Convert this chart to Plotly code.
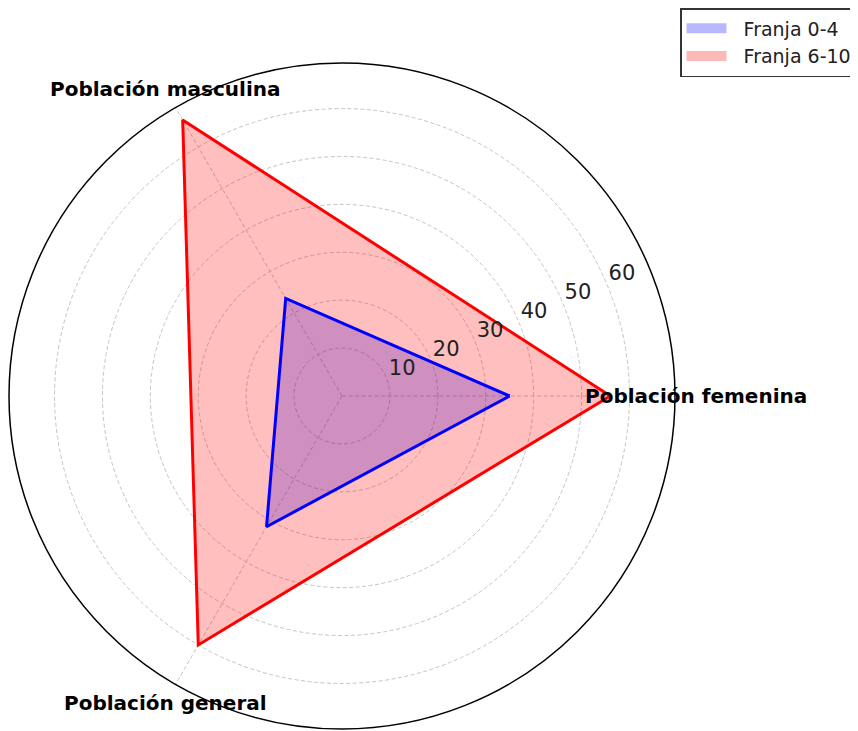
"""
Radar chart: Franja 0-4 vs Franja 6-10 by population group.
"""

import math

import plotly.graph_objects as go

categorias = ["Población femenina", "Población masculina", "Población general"]
franja_0_4 = [35, 23.5, 31.5]
franja_6_10 = [56, 66.5, 60]
radial_ticks = [10, 20, 30, 40, 50, 60]
series_names = ["Franja 0-4", "Franja 6-10"]

W, H = 858, 731
R_MAX = 69.5
FONT = "DejaVu Sans"

# polar box in pixels (square, so radius = half its width)
CX, CY, RAD = 334, 388, 333
DOM_X = [(CX - RAD) / W, (CX + RAD) / W]
DOM_Y = [1 - (CY + RAD) / H, 1 - (CY - RAD) / H]

# matplotlib-like placement of labels
LABEL_RAD = 1.063          # category labels, as a fraction of the spine radius
RLABEL_ANGLE = 23.5        # radial tick labels
RLABEL_PAD = 3.7           # in data units


def closed(vals):
    return list(vals) + [vals[0]]


theta = closed(categorias)

fig = go.Figure()

for vals, rgb in [(franja_0_4, "0,0,255"), (franja_6_10, "255,0,0")]:
    fig.add_trace(
        go.Scatterpolar(
            r=closed(vals),
            theta=theta,
            mode="lines",
            fill="toself",
            fillcolor=f"rgba({rgb},0.25)",
            line=dict(color=f"rgba({rgb},0)", width=0),
            showlegend=False,
            hoverinfo="skip",
        )
    )

for vals, color in [(franja_0_4, "#0000ff"), (franja_6_10, "#ff0000")]:
    fig.add_trace(
        go.Scatterpolar(
            r=closed(vals),
            theta=theta,
            mode="lines",
            line=dict(color=color, width=3),
            showlegend=False,
        )
    )

# legend patches
for name, rgb in zip(series_names, ["0,0,255", "255,0,0"]):
    fig.add_trace(
        go.Scatterpolar(
            r=[None],
            theta=[categorias[0]],
            mode="lines",
            line=dict(color=f"rgba({rgb},0.28)", width=14),
            name="\u00a0\u00a0" + name,
        )
    )

# radial tick labels (horizontal, like matplotlib) on an overlaid numeric polar
fig.add_trace(
    go.Scatterpolar(
        r=[v + RLABEL_PAD for v in radial_ticks],
        theta=[RLABEL_ANGLE] * len(radial_ticks),
        mode="text",
        text=[str(v) for v in radial_ticks],
        textposition="middle center",
        textfont=dict(family=FONT, size=21, color="#222222"),
        subplot="polar2",
        showlegend=False,
        hoverinfo="skip",
    )
)

# category labels centred just outside the spine
n = len(categorias)
for i, cat in enumerate(categorias):
    a = math.radians(360 * i / n)
    fig.add_annotation(
        x=(CX + LABEL_RAD * RAD * math.cos(a)) / W,
        y=1 - (CY - LABEL_RAD * RAD * math.sin(a)) / H,
        xref="paper",
        yref="paper",
        text=cat,
        showarrow=False,
        xanchor="center",
        yanchor="middle",
        font=dict(family=FONT, size=20, color="black", weight="bold"),
    )

grid = dict(showgrid=True, gridcolor="#c4c4c4", griddash="4px,2.5px", gridwidth=1)

fig.update_layout(
    width=W,
    height=H,
    margin=dict(l=0, r=0, t=0, b=0),
    paper_bgcolor="white",
    font=dict(family=FONT),
    polar=dict(
        domain=dict(x=DOM_X, y=DOM_Y),
        bgcolor="white",
        angularaxis=dict(
            direction="counterclockwise",
            rotation=0,
            showticklabels=False,
            ticks="",
            showline=True,
            linecolor="black",
            linewidth=1.5,
            **grid,
        ),
        radialaxis=dict(
            range=[0, R_MAX],
            tickvals=radial_ticks,
            showticklabels=False,
            showline=False,
            ticks="",
            **grid,
        ),
    ),
    polar2=dict(
        domain=dict(x=DOM_X, y=DOM_Y),
        bgcolor="rgba(0,0,0,0)",
        angularaxis=dict(direction="counterclockwise", rotation=0, visible=False),
        radialaxis=dict(range=[0, R_MAX], visible=False),
    ),
    legend=dict(
        x=672 / W,
        y=1.0,
        xanchor="left",
        yanchor="top",
        bgcolor="white",
        bordercolor="#333333",
        borderwidth=1.5,
        font=dict(family=FONT, size=19, color="#222222"),
        itemwidth=40,
        tracegroupgap=0,
    ),
)

fig.write_html("out.html")
